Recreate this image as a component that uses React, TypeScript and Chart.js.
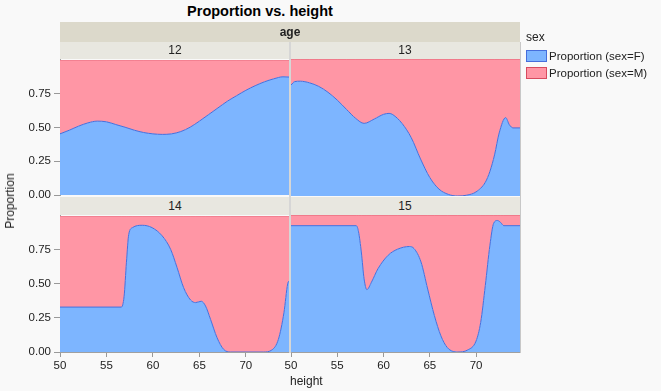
import React, { useEffect, useRef } from "react";
import { Chart, registerables } from "chart.js";

Chart.register(...registerables);

// ---- data ----
const ages = ["12", "13", "14", "15"];

const height12 = [50, 51, 52, 53, 54, 55, 56, 57, 58, 59, 60, 61, 62, 63, 64, 65, 66, 67, 68, 69, 70, 71, 72, 73, 74, 74.75];
const propF12 = [0.453, 0.48, 0.51, 0.534, 0.547, 0.542, 0.522, 0.502, 0.48, 0.463, 0.453, 0.449, 0.453, 0.47, 0.502, 0.547, 0.596, 0.645, 0.694, 0.735, 0.775, 0.809, 0.838, 0.86, 0.875, 0.873];

const height13 = [50, 50.4, 51, 52, 53, 54, 55, 56, 57, 57.9, 59, 60, 60.6, 61, 62, 63, 64, 65, 66, 67, 68, 69, 70, 71, 71.5, 72, 72.5, 73.2, 73.6, 74, 74.75];
const propF13 = [0.81, 0.835, 0.838, 0.826, 0.8, 0.757, 0.7, 0.632, 0.566, 0.53, 0.562, 0.596, 0.603, 0.594, 0.53, 0.425, 0.27, 0.135, 0.05, 0.012, 0, 0.006, 0.03, 0.1, 0.18, 0.3, 0.46, 0.572, 0.52, 0.497, 0.497];

const height14 = [50, 56.6, 56.9, 57.15, 57.4, 57.8, 58.85, 59.9, 61.0, 61.9, 62.6, 63.3, 64.05, 64.6, 65.2, 65.66, 66.2, 66.9, 67.6, 68.35, 71.9, 72.8, 73.5, 74.1, 74.5, 74.75];
const propF14 = [0.33, 0.33, 0.41, 0.66, 0.865, 0.914, 0.931, 0.914, 0.853, 0.755, 0.62, 0.473, 0.382, 0.363, 0.373, 0.338, 0.24, 0.105, 0.02, 0, 0, 0.015, 0.093, 0.29, 0.5, 0.53];

const height15 = [50, 57.06, 57.3, 57.6, 57.9, 58.2, 58.7, 59.4, 60.5, 61.5, 62.8, 63.3, 64.05, 64.77, 65.5, 66.2, 66.9, 68.0, 69.1, 70.0, 70.5, 71.0, 71.5, 71.9, 72.3, 72.65, 73.0, 74.75];
const propF15 = [0.922, 0.922, 0.877, 0.73, 0.534, 0.455, 0.51, 0.608, 0.706, 0.75, 0.77, 0.755, 0.657, 0.46, 0.265, 0.118, 0.032, 0, 0.015, 0.08, 0.216, 0.485, 0.78, 0.939, 0.96, 0.946, 0.922, 0.922];

const xTickValues = [50, 55, 60, 65, 70];
const yTickValues = [0, 0.25, 0.5, 0.75];
const xMin = 50;
const xMax = 74.75;

const seriesLabels = ["Proportion (sex=F)", "Proportion (sex=M)"];

// ---- styles ----
const BLUE = "rgb(125,181,255)";
const BLUE_LINE = "rgb(70,110,220)";
const PINK = "rgb(255,150,165)";
const PINK_LINE = "rgb(225,95,115)";
const FONT = "'Liberation Sans', Arial, sans-serif";
const TEXT = "#222";
const BG = "#f9f9f9";

type PanelProps = {
  heights: number[];
  propF: number[];
  left: number;
  top: number;
  width: number;
  height: number;
  padTop: number;
  padBottom: number;
  padLeft: number;
  showY: boolean;
  showX: boolean;
};

function Panel(p: PanelProps) {
  const ref = useRef<HTMLCanvasElement>(null);
  useEffect(() => {
    if (!ref.current) return;
    const f = p.heights.map((x, i) => ({ x, y: p.propF[i] }));
    const m = p.heights.map((x, i) => ({ x, y: 1 - p.propF[i] }));
    const chart = new Chart(ref.current, {
      type: "line",
      data: {
        datasets: [
          {
            label: seriesLabels[0],
            data: f,
            fill: "origin",
            backgroundColor: BLUE,
            borderColor: BLUE_LINE,
            borderWidth: 1,
            pointRadius: 0,
            cubicInterpolationMode: "monotone",
          },
          {
            label: seriesLabels[1],
            data: m,
            fill: "-1",
            backgroundColor: PINK,
            borderColor: PINK_LINE,
            borderWidth: 1,
            pointRadius: 0,
            cubicInterpolationMode: "monotone",
          },
        ],
      },
      options: {
        animation: false,
        responsive: false,
        events: [],
        layout: { padding: { top: p.padTop, bottom: p.padBottom, left: p.padLeft, right: 0 } },
        plugins: { legend: { display: false }, tooltip: { enabled: false } },
        scales: {
          x: {
            type: "linear",
            min: xMin,
            max: xMax,
            display: p.showX,
            afterBuildTicks: (s: any) => {
              s.ticks = xTickValues.map((v) => ({ value: v }));
            },
            afterFit: (s: any) => {
              s.height = p.showX ? 30 : 0;
            },
            grid: { drawOnChartArea: false, drawTicks: true, tickLength: 5, color: "#999" },
            border: { display: true, color: "#a0a0a0" },
            ticks: { font: { family: FONT, size: 11.5 }, color: TEXT, padding: 2, maxRotation: 0, autoSkip: false },
          },
          y: {
            type: "linear",
            stacked: true,
            min: 0,
            max: 1,
            display: p.showY,
            afterBuildTicks: (s: any) => {
              s.ticks = yTickValues.map((v) => ({ value: v }));
            },
            afterFit: (s: any) => {
              s.width = p.showY ? 60 : 0;
            },
            grid: { drawOnChartArea: false, drawTicks: true, tickLength: 6, color: "#999" },
            border: { display: true, color: "#a0a0a0" },
            ticks: {
              font: { family: FONT, size: 11.5 },
              color: TEXT,
              padding: 3,
              callback: (v: any) => Number(v).toFixed(2),
            },
          },
        },
      },
    } as any);
    return () => chart.destroy();
  }, []);
  return (
    <canvas
      ref={ref}
      width={p.width}
      height={p.height}
      style={{ position: "absolute", left: p.left, top: p.top, width: p.width, height: p.height }}
    />
  );
}

const abs = (s: React.CSSProperties): React.CSSProperties => ({ position: "absolute", ...s });

export default function App() {
  const headerText: React.CSSProperties = {
    fontFamily: FONT,
    fontSize: 12,
    color: TEXT,
    textAlign: "center",
  };
  return (
    <div style={{ position: "fixed", left: 0, top: 0, width: 661, height: 391, background: BG, overflow: "hidden" }}>
      <Panel heights={height12} propF={propF12} left={0} top={50} width={290} height={155} padTop={9} padBottom={9} padLeft={0} showY={true} showX={false} />
      <Panel heights={height13} propF={propF13} left={260} top={50} width={260} height={155} padTop={9} padBottom={9} padLeft={31} showY={false} showX={false} />
      <Panel heights={height14} propF={propF14} left={0} top={206} width={290} height={176} padTop={9} padBottom={0} padLeft={0} showY={true} showX={true} />
      <Panel heights={height15} propF={propF15} left={260} top={206} width={260} height={176} padTop={9} padBottom={0} padLeft={31} showY={false} showX={true} />

      {/* title */}
      <div style={abs({ left: 0, top: 2, width: 520, lineHeight: "18px", textAlign: "center", fontFamily: FONT, fontWeight: "bold", fontSize: 14.5, color: "#000" })}>
        Proportion vs. height
      </div>
      {/* age band */}
      <div style={abs({ left: 60, top: 22, width: 460, height: 20, lineHeight: "20px", background: "#dcd9cb", ...headerText, fontWeight: "bold" })}>age</div>
      <div style={abs({ left: 60, top: 42, width: 230, height: 17, lineHeight: "17px", background: "#e8e7e0", ...headerText })}>{ages[0]}</div>
      <div style={abs({ left: 290, top: 42, width: 230, height: 17, lineHeight: "17px", background: "#e8e7e0", ...headerText })}>{ages[1]}</div>
      <div style={abs({ left: 60, top: 197, width: 230, height: 18, lineHeight: "18px", background: "#e8e7e0", ...headerText })}>{ages[2]}</div>
      <div style={abs({ left: 290, top: 197, width: 230, height: 18, lineHeight: "18px", background: "#e8e7e0", ...headerText })}>{ages[3]}</div>
      {/* panel separators */}
      <div style={abs({ left: 289, top: 42, width: 2, height: 311, background: "#d6d6d6" })} />
      <div style={abs({ left: 520, top: 42, width: 1, height: 311, background: "#c8c8c8" })} />
      {/* axis titles */}
      <div style={abs({ left: 10, top: 201, transform: "translate(-50%,-50%) rotate(-90deg)", whiteSpace: "nowrap", fontFamily: FONT, fontSize: 12, color: TEXT })}>
        Proportion
      </div>
      <div style={abs({ left: 290, top: 374, lineHeight: "15px", fontFamily: FONT, fontSize: 12, color: TEXT })}>height</div>
      {/* legend */}
      <div style={abs({ left: 526, top: 30, lineHeight: "15px", fontFamily: FONT, fontSize: 12, color: TEXT })}>sex</div>
      <div style={abs({ left: 526, top: 50, width: 19, height: 10, background: BLUE, border: "1px solid rgb(70,110,220)" })} />
      <div style={abs({ left: 526, top: 67, width: 19, height: 10, background: PINK, border: "1px solid rgb(215,75,95)" })} />
      <div style={abs({ left: 549, top: 49, lineHeight: "15px", fontFamily: FONT, fontSize: 11.5, color: TEXT, whiteSpace: "nowrap" })}>{seriesLabels[0]}</div>
      <div style={abs({ left: 549, top: 66, lineHeight: "15px", fontFamily: FONT, fontSize: 11.5, color: TEXT, whiteSpace: "nowrap" })}>{seriesLabels[1]}</div>
    </div>
  );
}
